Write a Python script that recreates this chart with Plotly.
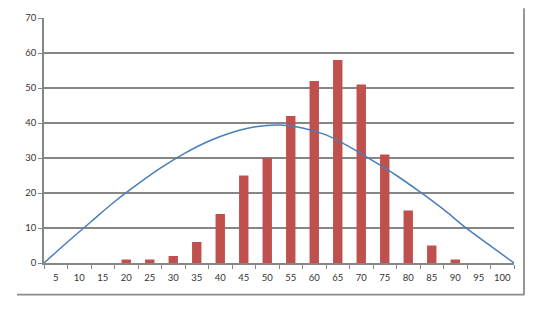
import plotly.graph_objects as go

categories = ["5", "10", "15", "20", "25", "30", "35", "40", "45", "50",
              "55", "60", "65", "70", "75", "80", "85", "90", "95", "100"]
bar_values = [0, 0, 0, 1, 1, 2, 6, 14, 25, 30, 42, 52, 58, 51, 31, 15, 5, 1, 0, 0]

curve_x = [2.5, 7.5, 12.5, 17.5, 22.5, 27.5, 32.5, 37.5, 42.5, 47.5, 52.5,
           57.5, 62.5, 67.5, 72.5, 77.5, 82.5, 87.5, 92.5, 97.5, 102.5]
curve_y = [0, 6.0, 11.8, 17.5, 22.6, 27.3, 31.4, 34.8, 37.3, 38.9, 39.4,
           38.6, 36.6, 33.2, 29.2, 25.0, 20.3, 15.3, 9.8, 4.9, 0]

y_ticks = [0, 10, 20, 30, 40, 50, 60, 70]

font = dict(family="Lato, Open Sans, sans-serif", size=9.5, color="#333333")
grid = "#868686"

fig = go.Figure()
fig.add_trace(go.Bar(
    x=categories, y=bar_values, width=0.4,
    marker=dict(color="#C0504D", line=dict(width=0)),
    xaxis="x", yaxis="y", showlegend=False))
fig.add_trace(go.Scatter(
    x=curve_x, y=curve_y, mode="lines", line=dict(color="#4A7EBB", width=1.5, shape="spline"),
    xaxis="x2", yaxis="y", showlegend=False))

fig.update_layout(
    width=547, height=314,
    margin=dict(l=44, r=33, t=18, b=51),
    paper_bgcolor="white", plot_bgcolor="white",
    font=font,
    xaxis=dict(type="category", tickson="boundaries", ticks="outside", ticklen=4,
               tickcolor=grid, tickwidth=1, showline=True, linecolor=grid, linewidth=1.8,
               showgrid=False, tickfont=font, ticklabelstandoff=5, tickangle=0,
               range=[-0.5, 19.5], fixedrange=True),
    xaxis2=dict(overlaying="x", range=[2.5, 102.5], visible=False, showgrid=False),
    yaxis=dict(range=[0, 70], tickvals=y_ticks, ticks="outside", ticklen=4,
               tickcolor=grid, showline=True, linecolor=grid, linewidth=1.8,
               showgrid=True, gridcolor=grid, gridwidth=1.7, zeroline=False,
               tickfont=font),
    bargap=0.6,
    shapes=[
        dict(type="line", xref="paper", yref="paper", x0=1.0213, x1=1.0213,
             y0=1.0396, y1=-0.129, line=dict(color="#8c8c8c", width=1.8)),
        dict(type="line", xref="paper", yref="paper", x0=-0.0574, x1=1.0225,
             y0=-0.129, y1=-0.129, line=dict(color="#8c8c8c", width=1.8)),
    ],
)

fig.write_html("out.html")
